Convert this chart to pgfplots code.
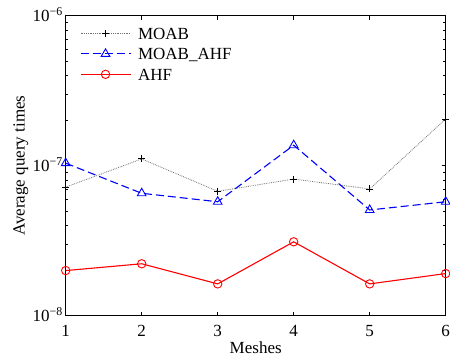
\documentclass[border=0pt]{standalone}
\usepackage{pgfplots}
\pgfplotsset{compat=1.18}
\usepackage{fontspec}
\setmainfont{Liberation Serif}
\begin{document}
\fontsize{17}{20}\selectfont
\begin{tikzpicture}
\useasboundingbox (-65.7pt,-44pt) rectangle (384.3pt,315.7pt);
\begin{axis}[
  at={(0,0)}, anchor=south west,
  scale only axis,
  width=380pt, height=300pt,
  xmin=1, xmax=6,
  ymode=log, ymin=1e-8, ymax=1e-6,
  xtick={1,2,3,4,5,6},
  ytick={1e-8,1e-7,1e-6},
  yticklabels={10\textsuperscript{−8},10\textsuperscript{−7},10\textsuperscript{−6}},
  /pgf/number format/assume math mode=true,
  tick align=inside,
  tick pos=both,
  major tick length=4pt,
  minor tick length=2.5pt,
  axis line style={line width=0.9pt},
  every tick/.style={black, line width=0.6pt},
  xlabel={Meshes},
  ylabel={Average query times},
  xlabel style={at={(axis description cs:0.5,0)}, anchor=base, inner sep=0pt, yshift=-38pt},
  ylabel style={at={(axis description cs:-0.1084,0.5)}, anchor=base, inner sep=0pt},
  xticklabel style={anchor=base, inner sep=0pt, yshift=-20.7pt},
  yticklabel style={anchor=base east, inner sep=0pt, xshift=-2.7pt, yshift=-5.6pt},
  tick label style={font=\fontsize{17}{20}\selectfont},
  label style={font=\fontsize{17}{20}\selectfont},
  legend style={draw=none, fill=none, inner sep=0pt, outer sep=0pt,
    at={(axis description cs:0.0376,0.9603)}, anchor=north west,
    font=\fontsize{17}{20}\selectfont, row sep=9.1pt,
    nodes={inner sep=0pt, text height=11.4pt, text depth=0pt},
    /tikz/every odd column/.append style={column sep=7pt}},
  legend cell align=left,
  legend image code/.code={\draw[mark repeat=2,mark phase=2] plot coordinates {(0pt,0pt)(25pt,0pt)(50pt,0pt)};},
]
\addplot[black!55, densely dotted, line width=0.8pt, mark=+, mark size=3.5pt, mark options={solid, black, line width=0.9pt}]
  coordinates {(1,7.2e-8)(2,1.11e-7)(3,6.75e-8)(4,8.15e-8)(5,7.0e-8)(6,2.05e-7)};
\addlegendentry{MOAB}
\addplot[blue, dash pattern=on 8pt off 4pt, line width=1.1pt, mark=triangle, mark size=5pt, mark options={solid, blue, line width=0.9pt}]
  coordinates {(1,1.04e-7)(2,6.55e-8)(3,5.75e-8)(4,1.37e-7)(5,5.07e-8)(6,5.75e-8)};
\addlegendentry{MOAB\_AHF}
\addplot[red, solid, line width=1.1pt, mark=o, mark size=4.2pt, mark options={solid, red, line width=0.9pt}]
  coordinates {(1,2.0e-8)(2,2.22e-8)(3,1.63e-8)(4,3.11e-8)(5,1.63e-8)(6,1.91e-8)};
\addlegendentry{AHF}
\end{axis}
\end{tikzpicture}
\end{document}
